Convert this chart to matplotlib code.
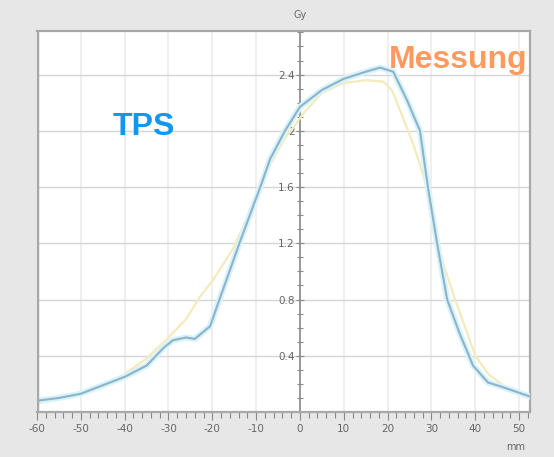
import numpy as np
import matplotlib
matplotlib.use("Agg")
import matplotlib.pyplot as plt
from matplotlib.ticker import MultipleLocator, FixedLocator

# TPS profile (blue)
tps_x = [-60, -55, -50, -45, -40, -35, -31, -29, -26, -24, -20.5, -18.7, -13.7, -8.7, -6.8,
         -3.4, 0, 5, 10, 15, 18.3, 21.3, 24.4, 27.4, 29.2, 31.3, 33.6, 36.3, 39.5, 42.9, 46, 52.5]
tps_y = [0.08, 0.10, 0.13, 0.19, 0.25, 0.33, 0.46, 0.51, 0.53, 0.52, 0.61, 0.77, 1.21, 1.63, 1.80,
         2.00, 2.17, 2.29, 2.37, 2.42, 2.45, 2.42, 2.22, 2.00, 1.60, 1.20, 0.80, 0.57, 0.33, 0.21, 0.18, 0.11]

# Messung profile (yellow)
mes_x = [-60, -55, -50, -45, -40, -35, -30, -26, -22.8, -19.8, -15.3, -9.8, -6.8, -3.4, -1.6,
         0.7, 5, 10, 15, 19, 21, 22.8, 25.8, 29, 31.3, 33.5, 35.4, 37.5, 40, 43, 46.8, 52.5]
mes_y = [0.06, 0.09, 0.12, 0.18, 0.27, 0.38, 0.53, 0.66, 0.82, 0.94, 1.16, 1.53, 1.76, 1.95, 2.02,
         2.12, 2.27, 2.34, 2.36, 2.35, 2.29, 2.15, 1.91, 1.60, 1.20, 0.98, 0.80, 0.62, 0.40, 0.27, 0.18, 0.11]

x_major = list(range(-60, 51, 10))
y_major = [0.4, 0.8, 1.2, 1.6, 2.0, 2.4]
y_labels = ["0.4", "0.8", "1.2", "1.6", "2", "2.4"]

fig = plt.figure(figsize=(5.54, 4.57), dpi=100)
fig.patch.set_facecolor("#e7e7e7")
ax = fig.add_axes([37 / 554, 1 - 412 / 457, 493 / 554, 381 / 457])
ax.set_facecolor("white")
ax.set_xlim(-60, 52.5)
ax.set_ylim(0, 2.71)

frame = "#a8a8a8"
for s in ["top", "right", "bottom"]:
    ax.spines[s].set_color(frame)
    ax.spines[s].set_linewidth(1.6)
ax.spines["left"].set_position(("data", 0))
ax.spines["left"].set_color("#8a8a8a")
ax.spines["left"].set_linewidth(1.2)
ax.axvline(-60, color=frame, lw=3.2, zorder=5)

# grid
for xv in x_major:
    ax.axvline(xv, color="#ececec", lw=1.2, zorder=0)
for yv in y_major:
    ax.axhline(yv, color="#d6d6d6", lw=1.0, zorder=0)

ax.xaxis.set_major_locator(FixedLocator(x_major))
ax.xaxis.set_minor_locator(MultipleLocator(2))
ax.set_xticklabels([str(v) for v in x_major])
ax.yaxis.set_major_locator(FixedLocator(y_major))
ax.yaxis.set_minor_locator(MultipleLocator(0.1))
ax.set_yticklabels(y_labels)
ax.tick_params(axis="x", which="major", direction="out", length=6, width=0.8,
               color="#888888", labelsize=7.5, labelcolor="#666666", pad=3)
ax.tick_params(axis="x", which="minor", direction="out", length=4, width=0.8, color="#888888")
ax.tick_params(axis="y", which="major", direction="inout", length=6, width=0.8,
               color="#888888", labelsize=7.5, labelcolor="#666666", pad=1)
ax.tick_params(axis="y", which="minor", direction="inout", length=4, width=0.8, color="#888888")

# curves
ax.plot(mes_x, mes_y, color="#f3ebbd", lw=1.6, zorder=3)
ax.plot(tps_x, tps_y, color="#d9f3fb", lw=4.5, zorder=3, solid_capstyle="round")
ax.plot(tps_x, tps_y, color="#8db3c8", lw=1.5, zorder=4)

ax.text(-42.7, 1.97, "TPS", color="#1098f0", fontsize=23, fontweight="bold",
        family="Liberation Sans", ha="left", va="baseline", zorder=6)
ax.text(20.3, 2.45, "Messung", color="#ff9a5e", fontsize=23, fontweight="bold",
        family="Liberation Sans", ha="left", va="baseline", zorder=6)

fig.text(300 / 554, 1 - 15 / 457, "Gy", fontsize=7, color="#666666", ha="center", va="center")
fig.text(516 / 554, 1 - 447 / 457, "mm", fontsize=7, color="#666666", ha="center", va="center")

fig.savefig("out.png", dpi=100, facecolor=fig.get_facecolor())
